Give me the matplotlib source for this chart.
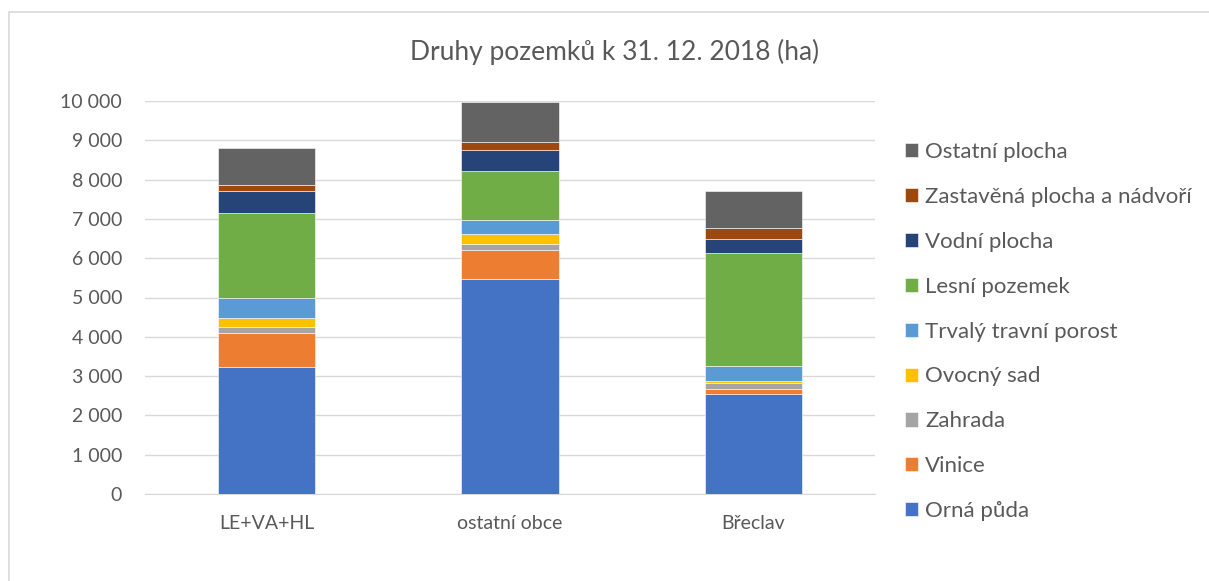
import matplotlib
matplotlib.use("Agg")
import matplotlib.pyplot as plt
from matplotlib.patches import Rectangle
import numpy as np

plt.rcParams['font.family'] = ['Lato', 'DejaVu Sans']

categories = ["LE+VA+HL", "ostatní obce", "Břeclav"]
series_names = ["Orná půda", "Vinice", "Zahrada", "Ovocný sad", "Trvalý travní porost",
                "Lesní pozemek", "Vodní plocha", "Zastavěná plocha a nádvoří", "Ostatní plocha"]
orna = [3226, 5462, 2539]
vinice = [883, 755, 138]
zahrada = [152, 153, 160]
ovocny = [230, 237, 34]
trvaly = [501, 373, 382]
lesni = [2164, 1247, 2879]
vodni = [544, 518, 348]
zastavena = [161, 220, 297]
ostatni = [942, 1018, 934]
values = [orna, vinice, zahrada, ovocny, trvaly, lesni, vodni, zastavena, ostatni]
colors = ["#4472C4", "#ED7D31", "#A5A5A5", "#FFC000", "#5B9BD5",
          "#70AD47", "#264478", "#9E480E", "#636363"]
yticks = [0, 1000, 2000, 3000, 4000, 5000, 6000, 7000, 8000, 9000, 10000]
ytick_labels = ["0", "1 000", "2 000", "3 000", "4 000", "5 000", "6 000", "7 000", "8 000", "9 000", "10 000"]

W, H = 1209, 581
fig = plt.figure(figsize=(W / 100, H / 100), dpi=100)
ax = fig.add_axes([145 / W, 1 - 494 / H, 730 / W, 393 / H])

x = np.arange(len(categories))
bottom = np.zeros(len(categories))
handles = []
for name, vals, c in zip(series_names, values, colors):
    h = ax.bar(x, vals, width=0.4, bottom=bottom, color=c, label=name,
               edgecolor="white", linewidth=0.4, zorder=3)
    handles.append(h)
    bottom += np.array(vals)

ax.set_xlim(-0.5, 2.5)
ax.set_ylim(0, 10000)
ax.set_yticks(yticks)
ax.set_yticklabels(ytick_labels)
ax.set_xticks(x)
ax.set_xticklabels(categories)
ax.grid(axis='y', color='#D9D9D9', linewidth=1, zorder=0)
for s in ["top", "right", "left"]:
    ax.spines[s].set_visible(False)
ax.spines["bottom"].set_color("#D9D9D9")
ax.tick_params(axis='both', length=0, colors="#595959")
ax.tick_params(axis='y', pad=16.5, labelsize=14)
ax.tick_params(axis='x', pad=15, labelsize=14)

fig.text(615 / W, 1 - 52 / H, "Druhy pozemků k 31. 12. 2018 (ha)", ha='center', va='center',
         fontsize=19, color="#595959")

leg = fig.legend(handles[::-1], series_names[::-1], loc='upper left',
                 bbox_to_anchor=(905 / W, 1 - 142 / H), frameon=False, fontsize=16,
                 labelcolor="#595959", handlelength=0.6, handleheight=0.6,
                 labelspacing=1.12, handletextpad=0.3, borderpad=0, borderaxespad=0)

fig.add_artist(Rectangle((9 / W, -0.01), 1.2, (H - 12) / H + 0.01, transform=fig.transFigure,
                         fill=False, edgecolor="#D9D9D9", linewidth=1.2))

fig.savefig("out.png", dpi=100)
